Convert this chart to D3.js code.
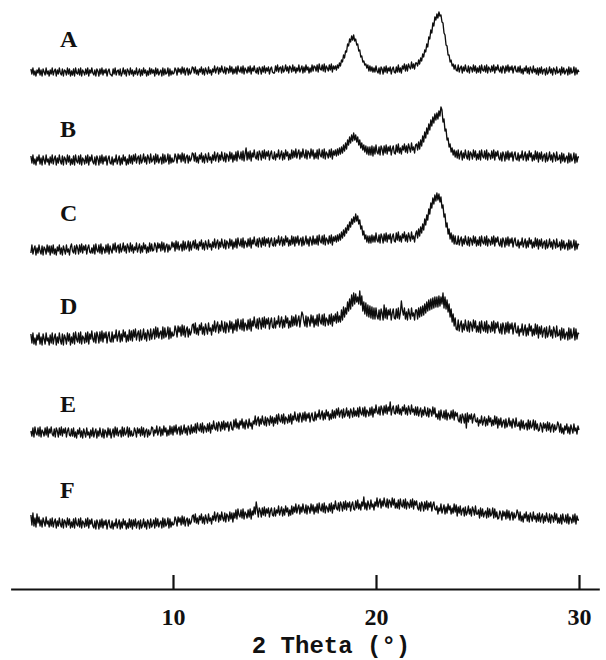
<!DOCTYPE html>
<html>
<head>
<meta charset="utf-8">
<script src="https://cdn.jsdelivr.net/npm/d3@7"></script>
<style>
  html, body { margin: 0; padding: 0; background: #fff; }
  svg { display: block; }
</style>
</head>
<body>
<svg id="chart"></svg>
<script>
// 2 theta range of every pattern (evenly sampled, 0.05 deg)
const THETA_START = 3;
const THETA_END = 30;

const sampleNames = ['A', 'B', 'C', 'D', 'E', 'F'];
// vertical offset of each pattern (a.u.)
const sampleOffsets = [507, 419, 329, 240, 147, 56];
const tickValues = [10, 20, 30];
const axisTitle = '2 Theta (°)';

// intensities (a.u.), one row per degree
const seriesA = [
  13,8,14,7,11,6,12,9,14,7,12,6,13,10,7,14,8,11,6,12,
  8,14,7,11,13,6,12,8,14,9,7,13,6,12,11,7,14,8,13,6,
  11,7,13,6,14,9,8,13,7,14,6,12,10,7,13,8,14,6,12,9,
  14,9,7,12,6,13,11,6,13,8,14,7,12,9,13,6,11,13,8,7,
  6,13,8,14,7,11,12,7,13,6,9,14,8,12,6,13,11,7,14,8,
  12,6,11,8,14,7,10,13,6,12,7,14,9,12,6,11,7,14,8,13,
  9,12,6,14,8,13,7,10,12,6,14,7,13,8,9,14,6,13,7,11,
  8,9,14,12,7,14,10,13,8,15,9,14,7,12,14,7,13,8,10,15,
  14,9,15,8,12,7,13,10,15,8,13,7,14,11,8,15,9,12,7,13,
  10,16,9,13,15,8,14,10,16,11,9,15,8,14,13,9,16,10,15,8,
  13,9,15,8,16,11,10,15,9,16,8,14,12,9,15,10,16,8,14,11,
  16,11,9,14,8,15,13,8,15,10,16,9,14,11,15,8,13,15,10,9,
  9,16,11,17,10,14,15,9,16,10,12,17,11,15,9,16,14,10,17,11,
  15,9,14,11,17,10,13,16,9,15,10,17,12,15,9,14,10,17,11,16,
  15,11,17,10,18,13,12,17,11,18,10,16,14,11,17,12,18,10,16,13,
  16,12,17,14,19,16,22,20,27,24,31,30,38,36,43,40,46,42,47,41,
  43,37,38,31,32,25,26,20,21,17,18,14,17,11,16,11,15,10,14,10,
  16,11,9,14,8,15,13,8,15,10,16,9,14,11,15,8,13,15,10,9,
  15,10,17,10,14,9,16,13,18,11,17,11,18,15,13,20,14,18,13,19,
  19,16,22,18,24,21,28,25,32,30,38,35,45,43,52,49,59,56,65,62,
  68,64,70,66,67,60,59,49,47,37,36,27,27,20,22,16,18,13,17,12,
  11,17,10,14,16,9,15,11,17,12,10,16,9,15,14,10,17,11,16,9,
  14,10,16,9,17,12,11,16,10,17,9,15,13,10,16,11,17,9,15,12,
  17,12,10,15,9,16,14,9,16,11,17,10,15,12,16,9,14,16,11,10,
  15,10,16,9,13,8,14,11,16,9,14,8,15,12,9,16,10,13,8,14,
  7,14,9,15,8,12,13,7,14,8,10,15,9,13,7,14,12,8,15,9,
  10,13,7,15,9,14,8,11,13,7,15,8,14,9,10,15,7,14,8,12,
  10
];
const seriesB = [
  14,7,15,6,11,5,13,9,15,6,12,5,14,10,6,15,8,11,5,13,
  7,15,6,11,14,5,12,7,15,9,6,14,5,13,11,6,15,8,14,5,
  11,6,14,5,15,9,7,14,6,15,5,12,10,6,14,7,15,5,13,9,
  15,8,6,13,5,14,11,5,14,7,15,6,13,9,14,5,11,14,7,6,
  13,5,11,8,15,6,10,14,5,12,6,15,9,13,5,11,6,15,7,14,
  6,15,9,16,7,12,14,6,15,7,10,16,8,13,6,15,12,7,16,8,
  10,14,6,16,8,15,7,11,13,6,16,7,15,8,10,16,6,15,7,12,
  8,9,16,13,7,16,11,15,8,17,9,16,7,13,15,7,14,9,11,17,
  16,9,17,8,13,7,15,11,17,8,14,7,16,12,8,17,10,13,7,15,
  10,18,9,14,17,8,15,10,18,12,9,17,8,16,14,9,18,11,17,8,
  15,10,18,9,19,13,11,18,10,19,9,16,22,10,18,11,19,9,17,13,
  20,13,11,18,10,19,16,10,19,12,20,11,18,14,19,10,16,19,12,11,
  18,10,16,13,20,11,15,19,10,17,11,20,14,18,10,16,11,20,12,19,
  13,21,12,17,20,11,18,13,21,15,12,20,11,19,17,12,21,14,20,11,
  17,12,20,11,21,15,13,20,12,21,11,18,16,12,20,13,21,11,19,15,
  20,14,21,15,22,16,23,17,25,19,27,21,30,25,33,27,35,29,37,30,
  35,28,33,25,30,22,27,20,25,18,24,16,23,15,23,15,24,14,23,16,
  25,18,16,23,15,24,21,15,24,17,25,16,23,19,24,15,21,24,17,16,
  25,18,26,17,22,16,24,20,26,18,24,17,26,22,18,27,20,23,17,25,
  26,20,28,21,30,24,34,28,38,32,42,36,46,40,50,44,53,47,56,50,
  57,51,59,54,63,60,48,51,39,41,30,32,23,26,18,22,15,20,13,19,
  12,20,11,16,19,10,17,12,20,14,11,19,10,18,16,11,20,13,19,10,
  16,11,19,10,20,14,12,19,11,20,10,17,15,11,19,12,20,10,18,14,
  19,12,10,17,9,18,15,9,18,11,19,10,17,13,18,9,15,18,11,10,
  17,9,15,12,19,10,14,18,9,16,10,19,13,17,9,15,10,19,11,18,
  8,17,11,18,9,14,16,8,17,9,12,18,10,15,8,17,14,9,18,10,
  11,15,7,17,9,16,8,12,14,7,17,8,16,9,11,17,7,16,8,13,
  13
];
const seriesC = [
  7,15,6,11,14,5,12,7,15,9,6,14,5,13,11,6,15,8,14,5,
  14,7,15,6,11,5,13,9,15,6,12,5,14,10,6,15,8,11,5,13,
  16,9,7,14,6,15,12,6,15,8,16,7,14,10,15,6,12,15,8,7,
  12,7,15,6,16,10,8,15,7,16,6,13,11,7,15,8,16,6,14,10,
  7,16,10,17,8,13,15,7,16,8,11,17,9,14,7,16,13,8,17,9,
  15,7,13,10,17,8,12,16,7,14,8,17,11,15,7,13,8,17,9,16,
  9,10,17,14,8,17,12,16,9,18,10,17,8,14,16,8,15,10,12,18,
  13,17,9,19,11,18,10,14,16,9,19,10,18,11,13,19,9,18,10,15,
  19,12,20,11,16,10,18,14,20,11,17,10,19,15,11,20,13,16,10,18,
  13,21,12,17,20,11,18,13,21,15,12,20,11,19,17,12,21,14,20,11,
  18,13,21,12,22,16,14,21,13,22,12,19,17,13,21,14,22,12,20,16,
  23,16,14,21,13,22,19,13,22,15,23,14,21,17,22,13,19,22,15,14,
  22,14,20,17,24,15,19,23,14,21,15,24,18,22,14,20,15,24,16,23,
  14,23,17,24,15,20,22,14,23,15,18,24,16,21,14,23,20,15,24,16,
  21,16,24,15,25,19,17,24,16,25,15,22,20,16,24,17,25,15,23,19,
  24,18,25,19,26,20,28,22,30,24,32,27,35,30,38,33,41,36,43,38,
  46,39,44,36,40,31,34,25,29,21,25,18,24,17,24,17,25,18,24,18,
  27,20,18,25,17,26,23,17,26,19,27,18,25,21,26,17,23,26,19,18,
  27,20,28,19,24,18,26,22,28,19,25,18,27,23,19,28,21,24,18,26,
  29,22,31,24,33,27,36,30,41,35,45,40,51,46,57,52,62,56,65,59,
  67,60,66,58,63,52,55,43,46,33,37,26,31,21,27,18,25,16,24,16,
  16,24,15,20,23,14,21,16,24,18,15,23,14,22,20,15,24,17,23,14,
  20,15,23,14,24,18,16,23,15,24,14,21,19,15,23,16,24,14,22,18,
  23,16,14,21,13,22,19,13,22,15,23,14,21,17,22,13,19,22,15,14,
  20,12,18,15,22,13,17,21,12,19,13,22,16,20,12,18,13,22,14,21,
  11,20,14,21,12,17,19,11,20,12,15,21,13,18,11,20,17,12,21,13,
  14,18,10,20,12,19,11,15,17,10,20,11,19,12,14,20,10,19,11,16,
  15
];
const seriesD = [
  15,6,16,5,11,4,14,9,16,5,12,4,15,10,5,16,8,11,4,14,
  6,16,5,11,15,4,12,6,16,9,5,15,4,14,11,5,16,8,15,4,
  12,6,16,5,17,10,7,16,6,17,5,13,11,6,16,7,17,5,15,10,
  18,10,7,16,6,17,13,6,17,8,18,7,16,11,17,6,13,17,8,7,
  17,7,14,11,19,8,13,18,7,15,8,19,12,17,7,14,8,19,9,18,
  8,19,12,20,9,15,18,8,19,9,13,20,10,16,8,19,15,9,20,10,
  15,20,10,22,12,21,11,16,18,10,22,11,21,12,15,22,10,21,11,17,
  13,14,23,19,12,23,17,22,13,24,14,23,12,19,22,12,20,14,17,24,
  25,16,26,15,21,14,24,19,26,15,22,14,25,20,15,26,18,21,14,24,
  18,28,17,23,27,16,24,18,28,21,17,27,16,26,23,17,28,20,27,16,
  25,19,29,18,30,23,20,29,19,30,18,26,24,19,29,20,30,18,28,23,
  32,24,21,30,20,31,27,20,31,22,32,21,30,25,31,20,27,31,22,21,
  31,21,28,25,33,22,27,32,21,29,22,33,26,31,21,28,22,33,23,32,
  24,34,23,29,33,22,30,37,34,27,23,33,22,32,29,23,34,26,33,22,
  30,24,34,23,35,28,25,34,24,35,23,31,29,24,34,25,35,23,33,28,
  35,26,37,27,33,27,39,29,42,32,41,35,47,38,50,40,54,43,56,45,
  55,47,52,45,58,44,53,38,47,35,46,33,44,32,43,31,42,30,41,30,
  41,33,30,39,29,40,36,29,44,31,41,30,39,34,40,29,36,40,31,30,
  40,31,41,30,36,48,39,34,41,30,37,29,40,35,30,41,33,36,29,39,
  39,30,41,32,42,33,43,34,45,36,47,38,49,39,50,40,51,41,52,42,
  52,42,53,43,52,45,56,41,52,40,49,37,45,32,40,27,35,23,31,20,
  19,29,18,24,28,17,25,19,29,22,18,28,17,27,24,18,29,21,28,17,
  23,17,27,16,28,21,18,27,17,28,16,24,22,17,27,18,28,16,26,21,
  27,19,16,25,15,26,22,15,26,17,27,16,25,20,26,15,22,26,17,16,
  23,13,20,17,25,14,19,24,13,21,14,25,18,23,13,20,14,25,15,24,
  11,22,15,23,12,18,21,11,22,12,16,23,13,19,11,22,18,12,23,13,
  14,19,9,21,11,20,10,15,17,9,21,10,20,11,14,21,9,20,10,16,
  15
];
const seriesE = [
  11,6,14,5,15,9,7,14,6,15,5,12,10,6,14,7,15,5,13,9,
  15,8,6,13,5,14,11,5,14,7,15,6,13,9,14,5,11,14,7,6,
  13,6,14,5,10,4,12,8,14,5,11,4,13,9,5,14,7,10,4,12,
  6,14,5,10,13,4,11,6,14,8,5,13,4,12,10,5,14,7,13,4,
  9,13,5,15,7,14,6,10,12,5,15,6,14,7,9,15,5,14,6,11,
  6,7,14,11,5,14,9,13,6,15,7,14,5,11,13,5,12,7,9,15,
  14,6,12,9,16,7,11,15,6,13,7,16,10,14,6,12,7,16,8,15,
  7,16,10,17,8,13,15,7,16,8,11,17,9,14,7,16,13,8,17,9,
  15,10,18,9,19,13,11,18,10,19,9,16,14,10,18,11,19,9,17,13,
  21,14,12,19,11,20,17,11,20,13,21,12,19,15,20,11,17,20,13,12,
  22,15,23,14,19,13,21,17,23,14,20,13,22,18,14,23,16,19,13,21,
  18,26,17,22,25,16,23,18,26,20,17,25,16,24,22,17,26,19,25,16,
  24,19,27,18,28,22,20,27,19,28,18,25,23,19,27,20,28,18,26,22,
  30,23,21,28,20,29,26,20,29,22,30,21,28,24,29,20,26,29,22,21,
  30,22,28,25,32,23,27,31,22,29,23,32,26,30,22,28,23,32,24,31,
  24,33,27,34,25,30,32,24,33,25,28,34,26,31,24,33,30,25,34,26,
  31,26,34,25,35,29,27,34,26,35,25,32,30,26,34,27,35,25,33,29,
  37,30,28,35,27,36,33,27,36,29,37,28,35,31,40,27,33,36,29,28,
  36,29,37,28,33,27,35,31,37,28,34,27,36,32,28,37,30,33,27,35,
  27,35,26,31,34,25,32,27,35,29,26,34,25,33,31,26,35,28,34,25,
  28,23,31,22,32,26,24,31,23,32,22,29,27,23,31,24,32,22,30,26,
  29,22,20,27,19,28,25,19,28,14,29,20,27,23,28,19,25,28,21,20,
  24,16,22,19,26,17,21,25,16,23,17,26,20,24,16,22,17,26,18,25,
  14,23,17,24,15,20,22,14,23,15,18,24,16,21,14,23,20,15,24,16,
  16,20,12,22,14,21,13,17,19,12,22,13,21,14,16,22,12,21,13,18,
  11,12,19,16,10,19,14,18,11,20,12,19,10,16,18,10,17,12,14,20,
  17,10,18,9,14,8,16,12,18,9,15,8,17,13,9,18,11,14,8,16,
  12
];
const seriesF = [
  18,8,20,7,15,6,19,10,16,7,13,6,15,11,7,16,9,12,6,14,
  7,15,6,11,14,5,12,7,15,9,6,14,5,13,11,6,15,8,14,5,
  11,6,14,5,15,9,7,14,6,15,5,12,10,6,14,7,15,5,13,9,
  14,7,5,12,4,13,10,4,13,6,14,5,12,8,13,4,10,13,6,5,
  12,4,10,7,14,5,9,13,4,11,5,14,8,12,4,10,5,14,6,13,
  4,13,7,14,5,10,12,4,13,5,8,14,6,11,4,13,10,5,14,6,
  9,13,5,15,7,14,6,10,12,5,15,6,14,7,9,15,5,14,6,11,
  8,9,16,13,7,16,11,15,8,17,9,16,7,13,15,7,14,9,11,17,
  18,11,19,10,15,9,17,13,19,10,16,9,18,14,10,19,12,15,9,17,
  13,21,12,17,20,11,18,13,21,15,12,20,11,19,17,12,21,14,20,11,
  20,15,23,14,24,18,16,23,15,24,14,21,19,15,23,16,24,14,22,18,
  26,19,31,24,16,25,22,16,25,18,26,17,24,20,25,16,22,25,18,17,
  25,17,23,20,27,18,22,26,17,24,18,27,21,25,17,23,18,27,19,26,
  21,29,20,25,28,19,26,21,29,23,20,28,19,27,25,20,29,22,28,19,
  26,21,29,20,30,24,22,29,21,30,20,27,25,21,29,22,30,20,28,24,
  32,25,23,30,22,31,28,22,31,24,32,23,30,26,31,22,28,31,24,23,
  32,25,33,24,29,23,31,27,36,24,30,23,32,28,24,33,26,29,23,31,
  27,35,26,31,34,25,32,27,35,29,26,34,25,33,31,26,35,28,34,25,
  30,25,33,24,34,28,26,33,25,34,24,31,29,25,33,26,34,24,32,28,
  32,25,23,30,22,31,28,22,31,24,32,23,30,26,31,22,28,31,24,23,
  27,19,25,22,29,20,24,28,19,26,20,29,23,27,19,25,20,29,21,28,
  17,26,20,27,18,23,25,17,26,18,21,27,19,24,17,26,23,18,27,19,
  19,23,15,25,17,24,16,20,22,15,25,16,24,17,19,25,15,24,16,21,
  14,15,22,19,13,22,17,21,14,23,15,22,13,19,21,13,20,15,17,23,
  20,13,21,12,17,11,19,15,21,12,18,11,20,16,12,21,14,17,11,19,
  12,20,11,16,19,10,17,12,20,14,11,19,10,18,16,11,20,13,19,10,
  15,10,18,9,19,13,11,18,10,19,9,16,14,10,18,11,19,9,17,13,
  13
];
const allSeries = [seriesA, seriesB, seriesC, seriesD, seriesE, seriesF];

const WIDTH = 606;
const HEIGHT = 660;
const AXIS_Y = 589;
const LABEL_X = 60;
const LABEL_BASELINES = [47, 137, 221, 314, 412, 498];

const x = d3.scaleLinear().domain([2, 31]).range([10.6, 599.3]);
const y = d3.scaleLinear().domain([0, AXIS_Y]).range([AXIS_Y, 0]);

const svg = d3.select('#chart')
    .attr('width', WIDTH)
    .attr('height', HEIGHT)
    .attr('viewBox', `0 0 ${WIDTH} ${HEIGHT}`);

const line = d3.line()
    .x((d) => x(d.theta))
    .y((d) => y(d.value));

const patterns = allSeries.map((values, k) => values.map((v, i) => ({
    theta: THETA_START + i * (THETA_END - THETA_START) / (values.length - 1),
    value: sampleOffsets[k] + v
})));

svg.append('g')
    .selectAll('path')
    .data(patterns)
    .enter()
    .append('path')
    .attr('d', line)
    .attr('fill', 'none')
    .attr('stroke', '#0d0d0d')
    .attr('stroke-width', 1.35)
    .attr('stroke-linejoin', 'round');

svg.append('g')
    .selectAll('text')
    .data(sampleNames)
    .enter()
    .append('text')
    .attr('x', LABEL_X)
    .attr('y', (d, i) => LABEL_BASELINES[i])
    .style('font-family', '"Liberation Serif", "Times New Roman", serif')
    .style('font-weight', 'bold')
    .style('font-size', '24px')
    .attr('fill', '#111')
    .text((d) => d);

const axis = svg.append('g')
    .attr('transform', `translate(0, ${AXIS_Y})`)
    .call(d3.axisBottom(x)
        .tickValues(tickValues)
        .tickSizeInner(-14)
        .tickSizeOuter(0)
        .tickPadding(19)
        .tickFormat(d3.format('d')));

axis.select('.domain')
    .attr('stroke', '#111')
    .attr('stroke-width', 2.2);

axis.selectAll('.tick line')
    .attr('stroke', '#111')
    .attr('stroke-width', 2.2);

axis.selectAll('.tick text')
    .attr('fill', '#111')
    .style('font-family', '"Liberation Serif", "Times New Roman", serif')
    .style('font-weight', 'bold')
    .style('font-size', '24px');

svg.append('text')
    .attr('x', 331)
    .attr('y', 653)
    .attr('text-anchor', 'middle')
    .style('font-family', '"Liberation Mono", "Courier New", monospace')
    .style('font-weight', 'bold')
    .style('font-size', '24px')
    .attr('fill', '#111')
    .text(axisTitle);
</script>
</body>
</html>
